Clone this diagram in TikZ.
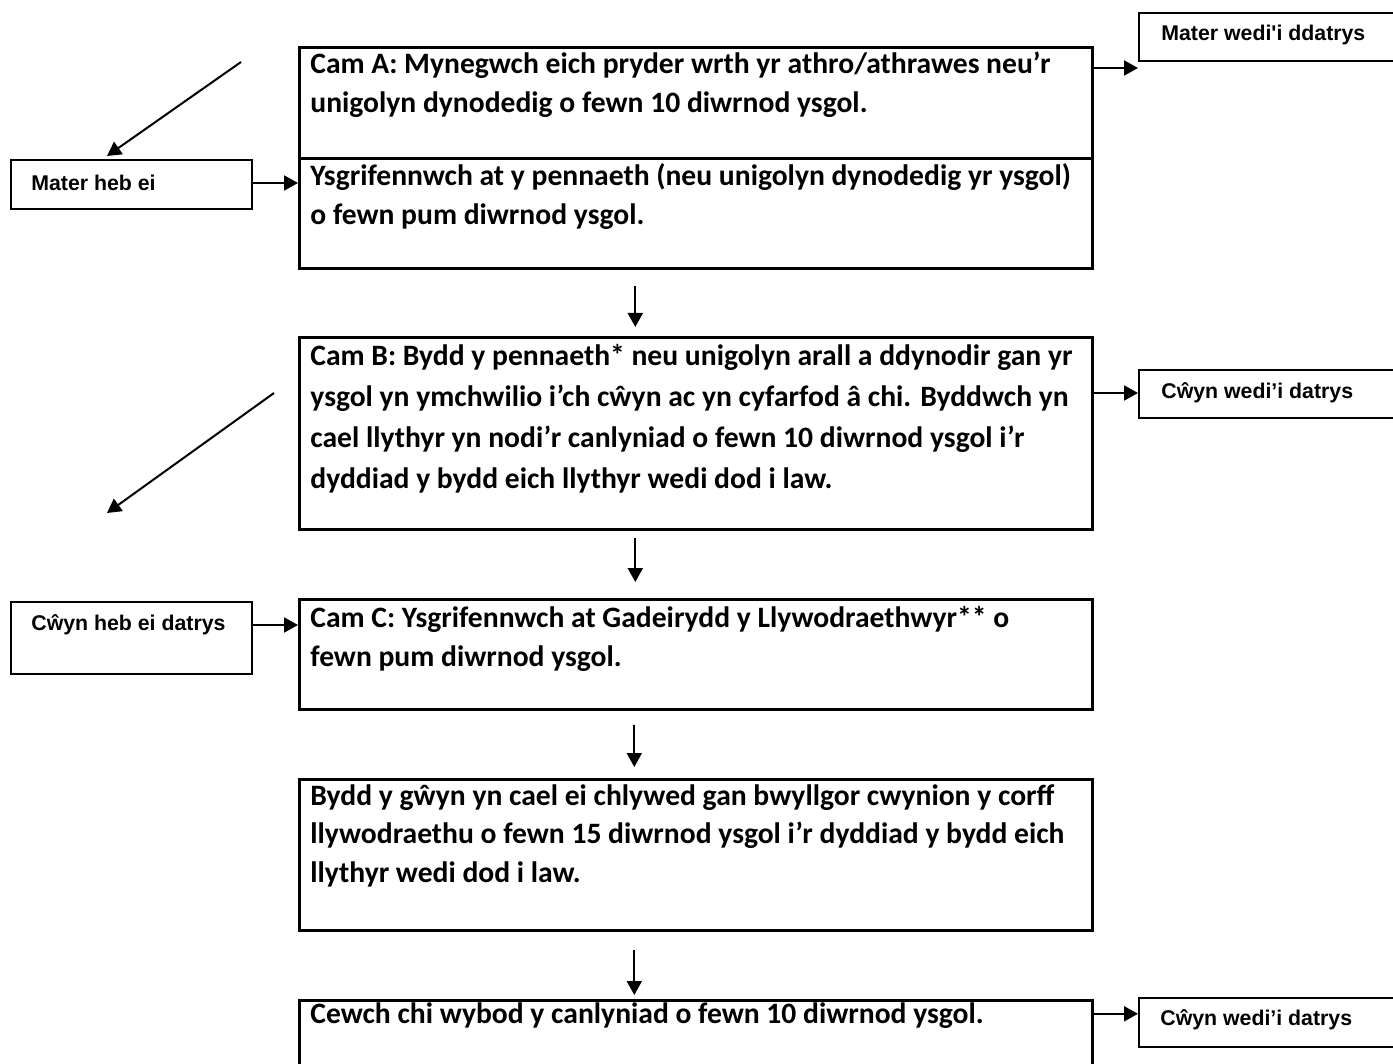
\documentclass[tikz,border=0pt]{standalone}
\usepackage{fontspec}
\setmainfont{Carlito}
\newfontfamily\arialfont{Liberation Sans}[Ligatures=TeXOff]
\usetikzlibrary{arrows.meta}

\begin{document}
\begin{tikzpicture}[x=0.5pt,y=-0.5pt,line join=miter,
        >={Triangle[length=7pt,width=7.5pt]},
        stage/.style={draw,line width=1.3pt,minimum width=396.5pt,anchor=north west,inner sep=0pt},
        note/.style={draw,line width=0.8pt,minimum width=120.5pt,minimum height=24pt,anchor=north west,inner sep=0pt},
        stagetext/.style={anchor=base west,inner sep=0pt,align=left,font=\bfseries\fontsize{14.8}{19.5}\selectfont},
        notetext/.style={anchor=west,inner sep=0pt,font=\arialfont\bfseries\fontsize{10.65}{12}\selectfont},
        link/.style={->,line width=1pt}]
        \useasboundingbox (0,0) rectangle (1393,1064);
        \clip (0,0) rectangle (1393,1064);

        % stage boxes
        \node[stage,minimum height=55.5pt] (boxA1) at (298,46) {};
        \node[stage,minimum height=55pt] (boxA2) at (298,157) {};
        \node[stage,minimum height=96pt] (boxB) at (298,336) {};
        \node[stage,minimum height=55pt] (boxC) at (298,598) {};
        \node[stage,minimum height=75.5pt] (boxD) at (298,778) {};
        \node[stage,minimum height=60pt] (boxE) at (298,999) {};

        % text placed at the baseline of its last line
        \node[stagetext] (txtA1) at (310,113)
            {Cam A: Mynegwch eich pryder wrth yr athro/athrawes neu’r\\unigolyn dynodedig o fewn 10 diwrnod ysgol.};
        \node[stagetext] (txtA2) at (310,225)
            {Ysgrifennwch at y pennaeth (neu unigolyn dynodedig yr ysgol)\\o fewn pum diwrnod ysgol.};
        \node[stagetext,font=\bfseries\fontsize{14.8}{20.5}\selectfont] (txtB) at (310,488)
            {Cam B: Bydd y pennaeth* neu unigolyn arall a ddynodir gan yr\\ysgol yn ymchwilio i’ch cŵyn ac yn cyfarfod â chi. Byddwch yn\\cael llythyr yn nodi’r canlyniad o fewn 10 diwrnod ysgol i’r\\dyddiad y bydd eich llythyr wedi dod i law.};
        \node[stagetext] (txtC) at (310,666)
            {Cam C: Ysgrifennwch at Gadeirydd y Llywodraethwyr** o\\fewn pum diwrnod ysgol.};
        \node[stagetext,font=\bfseries\fontsize{14.8}{19.25}\selectfont] (txtD) at (310,882)
            {Bydd y gŵyn yn cael ei chlywed gan bwyllgor cwynion y corff\\llywodraethu o fewn 15 diwrnod ysgol i’r dyddiad y bydd eich\\llythyr wedi dod i law.};
        \node[stagetext] (txtE) at (310,1023)
            {Cewch chi wybod y canlyniad o fewn 10 diwrnod ysgol.};

        % side notes
        \node[note,minimum height=24.5pt] (mheb) at (10,159) {};
        \node[notetext] (mhebtxt) at (31,183) {Mater heb ei};
        \node[note,minimum height=36pt] (cheb) at (10,601) {};
        \node[notetext] (chebtxt) at (31,625) {Cŵyn heb ei datrys};
        \node[note,minimum width=130pt] (mwedi) at (1138,12) {};
        \node[notetext] (mweditxt) at (1161,35) {Mater wedi'i ddatrys};
        \node[note,minimum width=130pt] (cwedi) at (1138,369) {};
        \node[notetext] (cweditxt) at (1161,393) {Cŵyn wedi’i datrys};
        \node[note,minimum width=130pt,minimum height=24.5pt] (cwediB) at (1138,997) {};
        \node[notetext] (cwediBtxt) at (1160,1020) {Cŵyn wedi’i datrys};

        \coordinate (mwediin) at (1138,68);
        \coordinate (diagAs) at (241,62);
        \coordinate (diagAe) at (107,156);
        \coordinate (diagBs) at (274,393);
        \coordinate (diagBe) at (107,513);

        % arrows
        \draw[link] (diagAs) -- (diagAe);
        \draw[link] (diagBs) -- (diagBe);
        \draw[link] (mhebtxt -| mheb.east) -- (mhebtxt -| boxA2.west);
        \draw[link] (chebtxt -| cheb.east) -- (chebtxt -| boxC.west);
        \draw[link] (mwediin -| boxA1.east) -- (mwediin);
        \draw[link] (cweditxt -| boxB.east) -- (cweditxt -| cwedi.west);
        \draw[link] ([yshift=4.25pt]cwediB.west -| boxE.east) -- ([yshift=4.25pt]cwediB.west);

        \draw[link,shorten <=8pt,shorten >=4.5pt] ([xshift=-30.25pt]boxA2.south) -- ([xshift=-30.25pt]boxB.north);
        \draw[link,shorten <=3.5pt,shorten >=8pt] ([xshift=-30.25pt]boxB.south) -- ([xshift=-30.25pt]boxC.north);
        \draw[link,shorten <=7pt,shorten >=5.5pt] ([xshift=-30.75pt]boxC.south) -- ([xshift=-30.75pt]boxD.north);
        \draw[link,shorten <=9pt,shorten >=2pt] ([xshift=-30.75pt]boxD.south) -- ([xshift=-30.75pt]boxE.north);
    \end{tikzpicture}
\end{document}
